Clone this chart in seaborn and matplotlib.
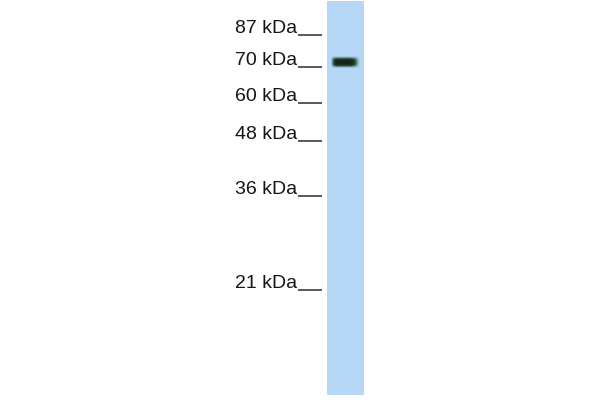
import seaborn as sns
import matplotlib.pyplot as plt
import pandas as pd
import numpy as np
from matplotlib.colors import LinearSegmentedColormap

# marker ladder: size (kDa) and migration distance (px from top of membrane)
marker_kda = [87, 70, 60, 48, 36, 21]
marker_pos = [34, 66, 102, 140, 195, 289]

# sample band (~68 kDa)
band_top = 55
band_rows = [0.1, 0.3, 0.6, 0.85, 0.97, 1.0, 1.0, 1.0, 0.92, 0.7, 0.4, 0.15]
band_cols = [0, 0, 0, 0,
             0.15, 0.35, 0.6, 0.8, 0.9,
             1, 1, 1, 1, 1, 1, 1, 1, 1, 1, 1, 1, 1, 1, 1,
             0.95, 0.9, 0.82, 0.72, 0.6, 0.45, 0.3, 0.15, 0.05,
             0, 0, 0, 0]
lane_len = 394

sns.set_theme(style='white')
plt.rcParams['font.family'] = ['Liberation Sans', 'DejaVu Sans']

lane = np.zeros((lane_len, len(band_cols)))
lane[band_top:band_top + len(band_rows), :] = np.outer(band_rows, band_cols)
df = pd.DataFrame(lane)

cmap = LinearSegmentedColormap.from_list(
    'blot', ['#b7d7f7', '#6f95a0', '#2e4a3a', '#15261b'])

fig = plt.figure(figsize=(6, 4), dpi=100)
fig.patch.set_facecolor('white')

ax_lane = fig.add_axes([327 / 600, 5 / 400, 37 / 600, lane_len / 400])
sns.heatmap(df, ax=ax_lane, cmap=cmap, vmin=0, vmax=1, cbar=False,
            xticklabels=False, yticklabels=False)

ax_mk = fig.add_axes([322 / 600, 0, 0.001, 1])
ax_mk.set_ylim(400 - 1, -1)
ax_mk.set_xlim(0, 1)
sns.despine(ax=ax_mk, left=True, bottom=True)
ax_mk.set_xticks([])
ax_mk.set_yticks(marker_pos)
ax_mk.set_yticklabels([])
ax_mk.tick_params(axis='y', direction='out', length=17.5, width=1.1,
                  color='#2a2a2a', left=True)
ax_mk.set_facecolor('none')
for kda, pos in zip(marker_kda, marker_pos):
    ax_mk.annotate(f'{kda} kDa', xy=(0, pos), xycoords=('axes fraction', 'data'),
                   xytext=(-25, 2), textcoords='offset pixels',
                   ha='right', va='baseline', fontsize=14, color='#151515')

fig.savefig('out.png', dpi=100, facecolor='white')
